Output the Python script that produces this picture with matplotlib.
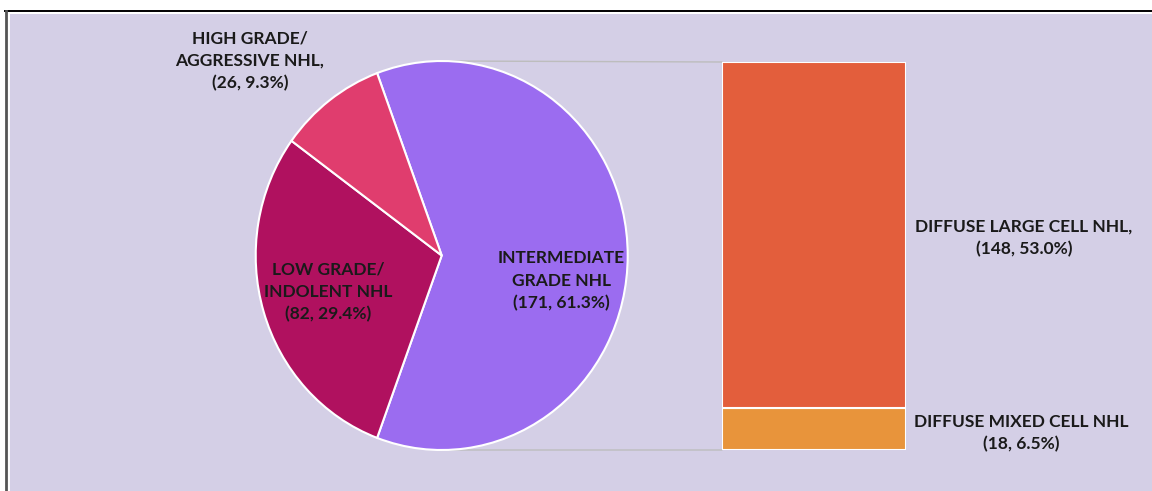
import matplotlib.pyplot as plt
from matplotlib.patches import Rectangle, ConnectionPatch
from matplotlib.lines import Line2D

# pie data (all NHL grades)
grade_labels = ["INTERMEDIATE\nGRADE NHL", "LOW GRADE/\nINDOLENT NHL", "HIGH GRADE/\nAGGRESSIVE NHL,"]
grade_counts = [171, 82, 26]
grade_colors = ["#9b6cf0", "#b0115f", "#e03d6e"]

# breakdown of intermediate grade
sub_labels = ["DIFFUSE MIXED CELL NHL", "DIFFUSE LARGE CELL NHL,"]
sub_counts = [18, 148]
sub_colors = ["#e8943b", "#e35e3c"]

total = sum(grade_counts)
W, H = 1152, 491
bg = "#d4cfe6"
txt = "#1a1a1a"
font = "Lato"

fig = plt.figure(figsize=(W / 100, H / 100), dpi=100)
fig.patch.set_facecolor("white")

# framed lavender panel
fig.patches.append(Rectangle((10 / W, 0), 1 - 10 / W, (H - 14) / H, transform=fig.transFigure,
                             facecolor=bg, edgecolor="none", zorder=-10))
fig.lines.append(Line2D([5 / W, 1], [(H - 10.5) / H] * 2, transform=fig.transFigure, color="black", lw=1.4))
fig.lines.append(Line2D([6 / W] * 2, [0, (H - 10.5) / H], transform=fig.transFigure, color="#555555", lw=2))

def px(x, y, w, h):
    return [x / W, 1 - (y + h) / H, w / W, h / H]

# pie
ax = fig.add_axes(px(255.7, 61, 372, 389))
pct = grade_counts[0] / total
ax.pie(grade_counts, colors=grade_colors, startangle=pct * 180, counterclock=False,
       wedgeprops=dict(edgecolor="white", linewidth=1.5))
ax.set_aspect("auto")
ax.set_xlim(-1, 1)
ax.set_ylim(-1, 1)
ax.axis("off")

# bar
bx = fig.add_axes(px(722, 62, 184, 388))
bottom = 0
for c, col in zip(sub_counts, sub_colors):
    bx.bar(0, c, width=1, bottom=bottom, color=col, edgecolor="white", linewidth=1.5)
    bottom += c
bx.set_xlim(-0.5, 0.5)
bx.set_ylim(0, sum(sub_counts))
bx.axis("off")

# connector lines
for py, by in [(1, sum(sub_counts)), (-1, 0)]:
    con = ConnectionPatch(xyA=(0, py), coordsA=ax.transData, xyB=(-0.5, by), coordsB=bx.transData,
                          color="#bdbdbd", lw=1, zorder=-1)
    fig.add_artist(con)
# keep pie above connectors
ax.set_zorder(2)

fs = 12.5
def label(x, y, s):
    fig.text(x / W, 1 - y / H, s, ha="center", va="center", fontsize=fs, fontweight="bold",
             color=txt, family=font, linespacing=1.5)

label(561, 281, "%s\n(%d, %.1f%%)" % (grade_labels[0], grade_counts[0], 100 * grade_counts[0] / total))
label(328, 292, "%s\n(%d, %.1f%%)" % (grade_labels[1], grade_counts[1], 100 * grade_counts[1] / total))
label(250, 61, "%s\n(%d, %.1f%%)" % (grade_labels[2], grade_counts[2], 100 * grade_counts[2] / total))
label(1024, 238, "%s\n(%d, %.1f%%)" % (sub_labels[1], sub_counts[1], 100 * sub_counts[1] / total))
label(1021, 433, "%s\n(%d, %.1f%%)" % (sub_labels[0], sub_counts[0], 100 * sub_counts[0] / total))

fig.savefig("out.png", dpi=100, facecolor=fig.get_facecolor())
